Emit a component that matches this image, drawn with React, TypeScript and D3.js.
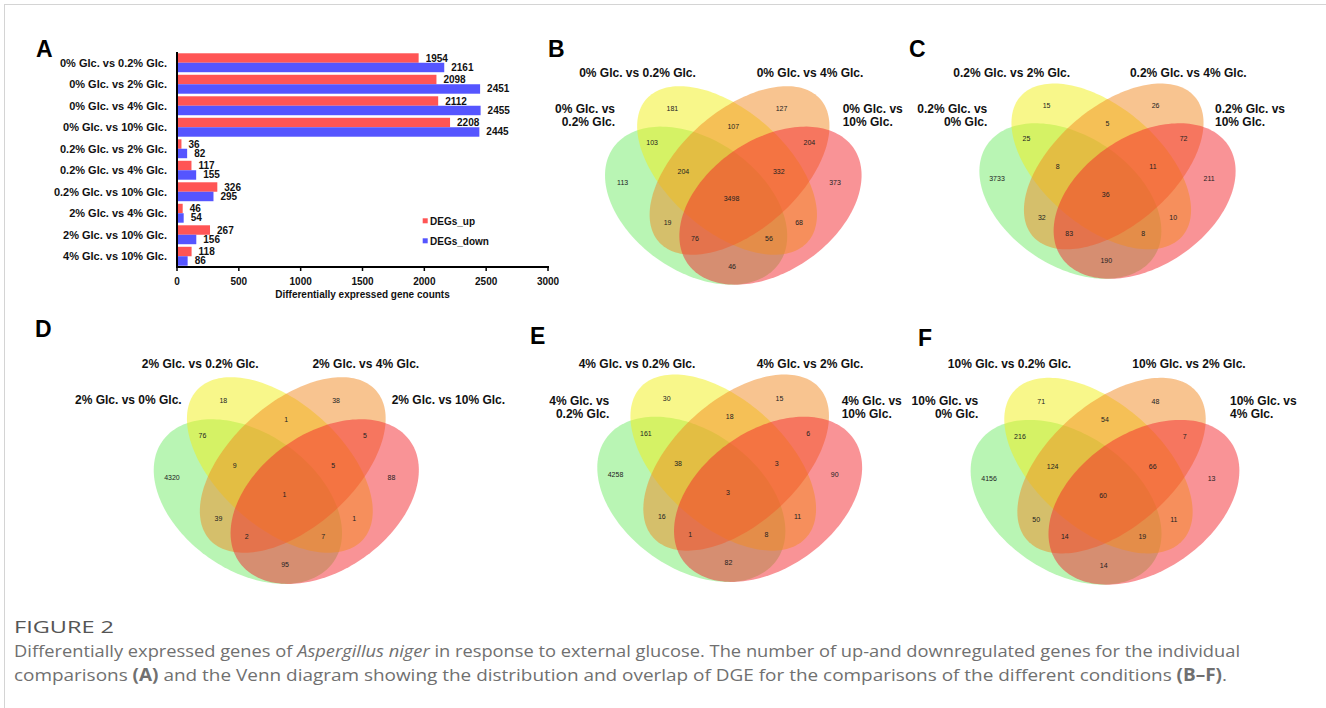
import React from "react";
import * as d3 from "d3";

// ---------- Panel A data ----------
const categories = [
  "0% Glc. vs 0.2% Glc.",
  "0% Glc. vs 2% Glc.",
  "0% Glc. vs 4% Glc.",
  "0% Glc. vs 10% Glc.",
  "0.2% Glc. vs 2% Glc.",
  "0.2% Glc. vs 4% Glc.",
  "0.2% Glc. vs 10% Glc.",
  "2% Glc. vs 4% Glc.",
  "2% Glc. vs 10% Glc.",
  "4% Glc. vs 10% Glc.",
];
const degsUp = [1954, 2098, 2112, 2208, 36, 117, 326, 46, 267, 118];
const degsDown = [2161, 2451, 2455, 2445, 82, 155, 295, 54, 156, 86];
const xTicks = [0, 500, 1000, 1500, 2000, 2500, 3000];
const legendLabels = ["DEGs_up", "DEGs_down"];
const xAxisTitle = "Differentially expressed gene counts";

// ---------- Venn data ----------
// region order: Y, O, YO, GY, OR, GYO, YOR, G, R, GYOR, GO, YR, GOR, GYR, GR
const regionKeys = ["Y", "O", "YO", "GY", "OR", "GYO", "YOR", "G", "R", "GYOR", "GO", "YR", "GOR", "GYR", "GR"];
const countsB = [181, 127, 107, 103, 204, 204, 332, 113, 373, 3498, 19, 68, 76, 56, 46];
const countsC = [15, 26, 5, 25, 72, 8, 11, 3733, 211, 36, 32, 10, 83, 8, 190];
const countsD = [18, 38, 1, 76, 5, 9, 5, 4320, 88, 1, 39, 1, 2, 7, 95];
const countsE = [30, 15, 18, 161, 6, 38, 3, 4258, 90, 3, 16, 11, 1, 8, 82];
const countsF = [71, 48, 54, 216, 7, 124, 66, 4156, 13, 60, 50, 11, 14, 19, 14];

// set names: green, yellow, orange, red
const setsB = ["0% Glc. vs 0.2% Glc.", "0% Glc. vs 0.2% Glc.", "0% Glc. vs 4% Glc.", "0% Glc. vs 10% Glc."];
const setsC = ["0.2% Glc. vs 0% Glc.", "0.2% Glc. vs 2% Glc.", "0.2% Glc. vs 4% Glc.", "0.2% Glc. vs 10% Glc."];
const setsD = ["2% Glc. vs 0% Glc.", "2% Glc. vs 0.2% Glc.", "2% Glc. vs 4% Glc.", "2% Glc. vs 10% Glc."];
const setsE = ["4% Glc. vs 0.2% Glc.", "4% Glc. vs 0.2% Glc.", "4% Glc. vs 2% Glc.", "4% Glc. vs 10% Glc."];
const setsF = ["10% Glc. vs 0% Glc.", "10% Glc. vs 0.2% Glc.", "10% Glc. vs 2% Glc.", "10% Glc. vs 4% Glc."];

// ---------- layout / style constants ----------
const FONT = "'Liberation Sans', Arial, Helvetica, sans-serif";
const RED = "#FF5555";
const BLUE = "#5555FF";

// unit-square ellipse geometry (x, y, a, b, rotation deg), y up
const ellipses = [
  { x: 0.375, y: 0.45, a: 0.337, b: 0.217, rot: 147, fill: "#73EB69" },
  { x: 0.479, y: 0.565, a: 0.358, b: 0.198, rot: 140, fill: "#F1EF15" },
  { x: 0.521, y: 0.565, a: 0.358, b: 0.198, rot: 40, fill: "#F18921" },
  { x: 0.625, y: 0.45, a: 0.337, b: 0.217, rot: 33, fill: "#F3272D" },
];
const regionPos: Record<string, [number, number]> = {
  Y: [0.295, 0.766], O: [0.662, 0.766], YO: [0.5, 0.708], GY: [0.227, 0.656], OR: [0.756, 0.656],
  GYO: [0.332, 0.563], YOR: [0.653, 0.563], G: [0.128, 0.526], R: [0.842, 0.526], GYOR: [0.494, 0.472],
  GO: [0.279, 0.396], YR: [0.721, 0.396], GOR: [0.371, 0.341], GYR: [0.62, 0.341], GR: [0.496, 0.251],
};

type CatPos = { x: number; y: number; anchor: string; wrap: boolean };
type VennLayout = { letter: string; lx: number; ly: number; cx: number; top: number; sx: number; sy: number; cat: CatPos[] };

const vennPanels: { layout: VennLayout; counts: number[]; sets: string[] }[] = [
  {
    counts: countsB, sets: setsB,
    layout: { letter: "B", lx: 548, ly: 57, cx: 733.3, top: 86.7, sx: 297.4, sy: 305.8,
      cat: [
        { x: 615, y: 108.3, anchor: "end", wrap: true },
        { x: 637.5, y: 72.7, anchor: "middle", wrap: false },
        { x: 810, y: 72.7, anchor: "middle", wrap: false },
        { x: 842.7, y: 108.3, anchor: "start", wrap: true },
      ] },
  },
  {
    counts: countsC, sets: setsC,
    layout: { letter: "C", lx: 909, ly: 57, cx: 1107.5, top: 84, sx: 297, sy: 300.8,
      cat: [
        { x: 987.3, y: 108.3, anchor: "end", wrap: true },
        { x: 1011.7, y: 72.7, anchor: "middle", wrap: false },
        { x: 1188.3, y: 72.7, anchor: "middle", wrap: false },
        { x: 1215, y: 108.3, anchor: "start", wrap: true },
      ] },
  },
  {
    counts: countsD, sets: setsD,
    layout: { letter: "D", lx: 35, ly: 337, cx: 286.3, top: 377.7, sx: 307.3, sy: 318.5,
      cat: [
        { x: 181.7, y: 400, anchor: "end", wrap: false },
        { x: 200.2, y: 363.3, anchor: "middle", wrap: false },
        { x: 365.8, y: 363.3, anchor: "middle", wrap: false },
        { x: 391.7, y: 400, anchor: "start", wrap: false },
      ] },
  },
  {
    counts: countsE, sets: setsE,
    layout: { letter: "E", lx: 530, ly: 344, cx: 729.7, top: 375, sx: 307, sy: 319.6,
      cat: [
        { x: 609.3, y: 400.7, anchor: "end", wrap: true },
        { x: 637, y: 364, anchor: "middle", wrap: false },
        { x: 810, y: 364, anchor: "middle", wrap: false },
        { x: 841.7, y: 400.7, anchor: "start", wrap: true },
      ] },
  },
  {
    counts: countsF, sets: setsF,
    layout: { letter: "F", lx: 918, ly: 346, cx: 1105, top: 378.3, sx: 311.5, sy: 318.7,
      cat: [
        { x: 978.3, y: 400.7, anchor: "end", wrap: true },
        { x: 1009.5, y: 363.3, anchor: "middle", wrap: false },
        { x: 1189, y: 363.3, anchor: "middle", wrap: false },
        { x: 1230, y: 400.7, anchor: "start", wrap: true },
      ] },
  },
];

function ellipsePoints(e: { x: number; y: number; a: number; b: number; rot: number }): [number, number][] {
  const th = (e.rot * Math.PI) / 180;
  const pts: [number, number][] = [];
  for (let i = 0; i < 180; i++) {
    const t = (i / 180) * 2 * Math.PI;
    const px = e.x + e.a * Math.cos(t) * Math.cos(th) - e.b * Math.sin(t) * Math.sin(th);
    const py = e.y + e.a * Math.cos(t) * Math.sin(th) + e.b * Math.sin(t) * Math.cos(th);
    pts.push([px, py]);
  }
  return pts;
}

function Venn({ layout, counts, sets }: { layout: VennLayout; counts: number[]; sets: string[] }) {
  const x = d3.scaleLinear().domain([0, 1]).range([layout.cx - 0.5 * layout.sx, layout.cx + 0.5 * layout.sx]);
  const y = d3.scaleLinear().domain([0.839, 0]).range([layout.top, layout.top + 0.839 * layout.sy]);
  const line = d3
    .line<[number, number]>()
    .x((d) => x(d[0]))
    .y((d) => y(d[1]))
    .curve(d3.curveLinearClosed);
  return (
    <g>
      <text x={layout.lx} y={layout.ly} fontFamily={FONT} fontWeight="bold" fontSize={23} fill="#000">
        {layout.letter}
      </text>
      {ellipses.map((e, i) => (
        <path key={i} d={line(ellipsePoints(e)) || ""} fill={e.fill} fillOpacity={0.5} stroke="none" />
      ))}
      {regionKeys.map((k, i) => (
        <text
          key={k}
          x={x(regionPos[k][0])}
          y={y(regionPos[k][1])}
          dy="0.35em"
          textAnchor="middle"
          fontFamily={FONT}
          fontSize={7}
          fill="#222"
        >
          {counts[i]}
        </text>
      ))}
      {sets.map((s, i) => {
        const c = layout.cat[i];
        const lines = c.wrap ? [s.slice(0, s.indexOf(" vs") + 3), s.slice(s.indexOf(" vs") + 4)] : [s];
        return (
          <text key={i} x={c.x} y={c.y} textAnchor={c.anchor} fontFamily={FONT} fontWeight="bold" fontSize={12} fill="#111">
            {lines.map((l, j) => (
              <tspan key={j} x={c.x} y={c.y + j * 13.4} dy="0.35em">
                {l}
              </tspan>
            ))}
          </text>
        );
      })}
    </g>
  );
}

function BarPanel() {
  const x = d3.scaleLinear().domain([0, 3000]).range([177, 548]);
  const y = d3.scaleBand<string>().domain(categories).range([52, 267]).paddingInner(0.12).paddingOuter(0.06);
  const bw = y.bandwidth() / 2;
  return (
    <g fontFamily={FONT} fontWeight="bold">
      <text x={36} y={57} fontSize={23} fill="#000">A</text>
      {categories.map((c, i) => {
        const y0 = y(c) as number;
        return (
          <g key={c}>
            <text x={167} y={y0 + bw} dy="0.35em" textAnchor="end" fontSize={11} fill="#111">{c}</text>
            <rect x={x(0)} y={y0} width={x(degsUp[i]) - x(0)} height={bw} fill={RED} />
            <rect x={x(0)} y={y0 + bw} width={x(degsDown[i]) - x(0)} height={bw} fill={BLUE} />
            <text x={x(degsUp[i]) + 7} y={y0 + bw / 2} dy="0.35em" fontSize={10} fill="#111">{degsUp[i]}</text>
            <text x={x(degsDown[i]) + 7} y={y0 + bw * 1.5} dy="0.35em" fontSize={10} fill="#111">{degsDown[i]}</text>
          </g>
        );
      })}
      <line x1={177} x2={177} y1={52} y2={268} stroke="#000" strokeWidth={2} />
      <line x1={176} x2={549} y1={267} y2={267} stroke="#000" strokeWidth={2} />
      {xTicks.map((t) => (
        <g key={t}>
          <line x1={x(t)} x2={x(t)} y1={267} y2={271} stroke="#000" strokeWidth={1.5} />
          <text x={x(t)} y={281} dy="0.35em" textAnchor="middle" fontSize={10} fill="#111">{t}</text>
        </g>
      ))}
      <text x={(x(0) + x(3000)) / 2} y={294.5} dy="0.35em" textAnchor="middle" fontSize={10} fill="#111">{xAxisTitle}</text>
      {legendLabels.map((l, i) => (
        <g key={l}>
          <rect x={422.7} y={218.3 + i * 20} width={5} height={5} fill={i === 0 ? RED : BLUE} />
          <text x={430} y={221 + i * 20} dy="0.35em" fontSize={10} fill="#111">{l}</text>
        </g>
      ))}
    </g>
  );
}

export default function App() {
  const capFont = "'Open Sans', 'Noto Sans', sans-serif";
  return (
    <svg width={1326} height={708} style={{ position: "absolute", left: 0, top: 0, display: "block", background: "#fff" }}>
      <rect x={0} y={0} width={1326} height={708} fill="#fff" />
      <rect x={4.5} y={4.5} width={1400} height={800} fill="none" stroke="#d4d4d4" strokeWidth={1} />
      <BarPanel />
      {vennPanels.map((p) => (
        <Venn key={p.layout.letter} layout={p.layout} counts={p.counts} sets={p.sets} />
      ))}
      <text x={14} y={633} fontFamily={capFont} fontSize={17} fill="#555" textLength={100} lengthAdjust="spacingAndGlyphs">FIGURE 2</text>
      <text x={14} y={657} fontFamily={capFont} fontSize={17} fill="#707070" textLength={1226} lengthAdjust="spacingAndGlyphs">
        <tspan>Differentially expressed genes of </tspan>
        <tspan fontStyle="italic">Aspergillus niger</tspan>
        <tspan> in response to external glucose. The number of up-and downregulated genes for the individual</tspan>
      </text>
      <text x={14} y={681} fontFamily={capFont} fontSize={17} fill="#707070" textLength={1213} lengthAdjust="spacingAndGlyphs">
        <tspan>comparisons </tspan>
        <tspan fontWeight="bold">(A)</tspan>
        <tspan> and the Venn diagram showing the distribution and overlap of DGE for the comparisons of the different conditions </tspan>
        <tspan fontWeight="bold">(B–F)</tspan>
        <tspan>.</tspan>
      </text>
    </svg>
  );
}
